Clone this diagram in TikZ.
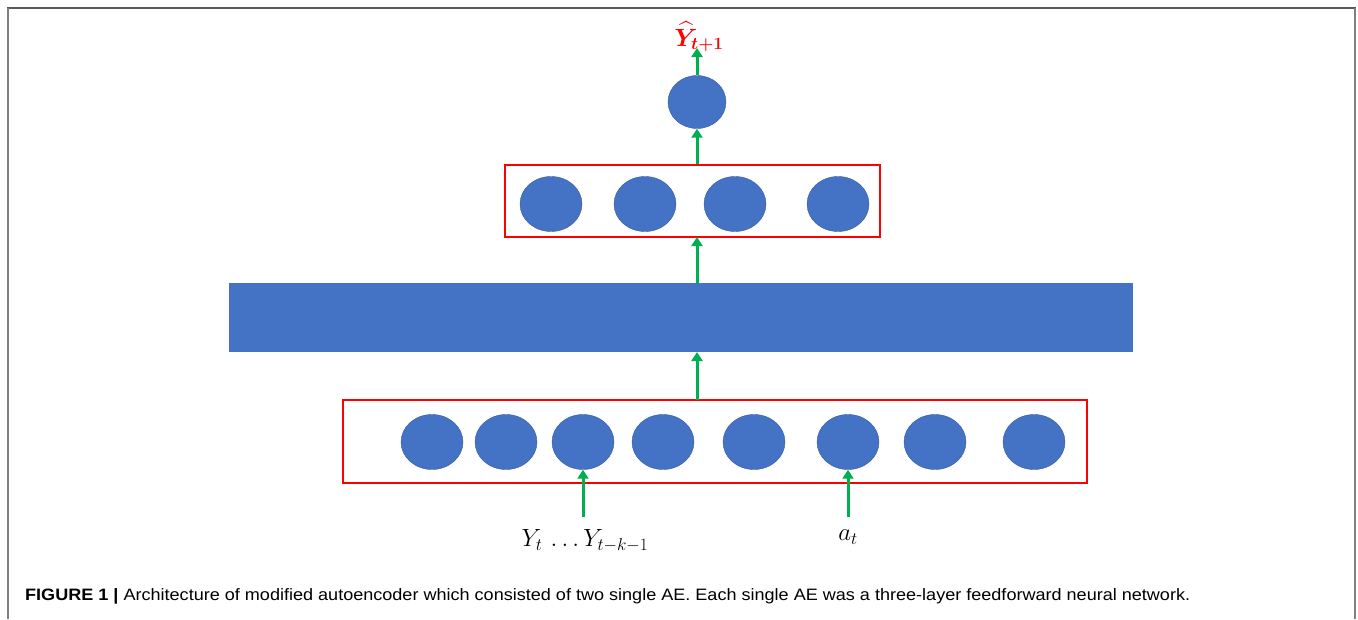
\documentclass[tikz,border=0pt]{standalone}
\usepackage{amsmath}
\usepackage{fontspec}
\newfontfamily\capfont{Liberation Sans}
\usetikzlibrary{shapes.geometric,arrows.meta}
\definecolor{nblue}{HTML}{4472C4}
\definecolor{nred}{HTML}{FF0000}
\definecolor{ngreen}{HTML}{00B050}
\tikzset{
  neuron/.style={ellipse, fill=nblue, draw=nblue!80!black, line width=0.4pt, minimum width=62pt, minimum height=55pt, inner sep=0pt},
  layerbox/.style={draw=nred, line width=2.8pt, inner sep=0pt},
  flow/.style={draw=ngreen, line width=3pt, -{Triangle[width=11pt,length=9pt]}},
  mathlbl/.style={inner sep=0pt, font=\fontsize{26}{30}\selectfont},
}
\begin{document}
\begin{tikzpicture}[x=1pt,y=-1pt]
\useasboundingbox (0,0) rectangle (1358,619);
% frame
\draw[draw=gray!70!black, line width=2pt] (7,8) -- (1356,8);
\draw[draw=gray, line width=2.5pt] (8,8) -- (8,619);
\draw[draw=gray, line width=2.5pt] (1355,8) -- (1355,619);

% output neuron and label
\node[neuron, minimum width=58pt, minimum height=53pt] (out) at (697,102) {};
\node[inner sep=0pt, text=nred, font=\fontsize{25}{28}\selectfont] (yhat) at (699,37) {$\boldsymbol{\widehat{Y}_{t+1}}$};

% upper box
\node[layerbox, minimum width=375pt, minimum height=72pt] (box1) at (692.5,201) {};
\node[neuron] (u1) at (551,204) {};
\node[neuron] (u2) at (645,204) {};
\node[neuron] (u3) at (735,204) {};
\node[neuron] (u4) at (838,204) {};

% bottleneck rectangle
\node[fill=nblue, minimum width=904pt, minimum height=69pt, inner sep=0pt] (code) at (681,317.5) {};

% lower box
\node[layerbox, minimum width=744pt, minimum height=83pt] (box0) at (715,441.5) {};
\node[neuron] (l1) at (432,442) {};
\node[neuron] (l2) at (506,442) {};
\node[neuron] (l3) at (583,442) {};
\node[neuron] (l4) at (663,442) {};
\node[neuron] (l5) at (754,442) {};
\node[neuron] (l6) at (848,442) {};
\node[neuron] (l7) at (935,442) {};
\node[neuron] (l8) at (1034,442) {};

% inputs
\node[mathlbl] (yin) at (585,541) {$Y_t\,\ldots Y_{t-k-1}$};
\node[mathlbl] (ain) at (848,537) {$a_t$};

% connectors
\coordinate (ystart) at (583,517);
\coordinate (astart) at (848,517);
\draw[flow] (ystart) -- (l3.south);
\draw[flow] (astart) -- (l6.south);
\draw[flow] (697,400) -- (697,352);
\draw[flow] (697,283) -- (697,237);
\draw[flow] (box1.north -| out) -- (out.south);
\draw[flow] (out.north) -- (697,48);

% caption
\node[anchor=west, inner sep=0pt] (cap) at (25,596) {\resizebox{1165pt}{\height}{\capfont\fontsize{16.5}{19}\selectfont\textbf{FIGURE 1 |} Architecture of modified autoencoder which consisted of two single AE. Each single AE was a three-layer feedforward neural network.}};
\end{tikzpicture}
\end{document}
